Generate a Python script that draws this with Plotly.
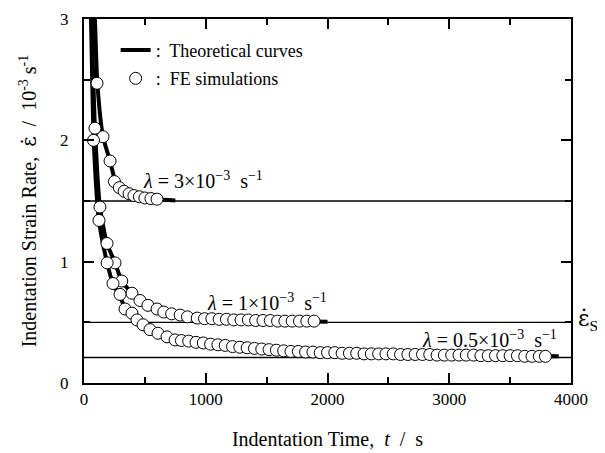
import plotly.graph_objects as go

# ---------------- data ----------------
# FE simulation points: t [s], strain rate [1e-3 s^-1]
fe3_t = [107, 156, 214, 250, 290, 330, 370, 410, 455, 500, 550, 600]
fe3_e = [2.47, 2.03, 1.83, 1.66, 1.61, 1.58, 1.56, 1.545, 1.535, 1.525, 1.52, 1.515]

fe1_t = [90, 131, 189, 255, 310, 394, 460, 525, 600, 655, 720, 790, 850, 930,
         990, 1050, 1110, 1170, 1230, 1290, 1350, 1410, 1470, 1530, 1590, 1650,
         1710, 1770, 1830, 1890]
fe1_e = [2.10, 1.45, 1.15, 0.99, 0.84, 0.74, 0.68, 0.64, 0.61, 0.585, 0.57, 0.56,
         0.545, 0.535, 0.53, 0.53, 0.525, 0.525, 0.52, 0.52, 0.52, 0.515, 0.515,
         0.515, 0.51, 0.51, 0.51, 0.51, 0.51, 0.51]

fe05_t = [78, 123, 190, 238, 296, 337, 394, 435, 485, 542, 608, 682, 748,
          800, 860, 920, 980, 1040, 1100, 1160, 1220, 1280, 1340, 1400, 1460,
          1520, 1580, 1640, 1700, 1760, 1820, 1880, 1940, 2000, 2060, 2120, 2180,
          2240, 2300, 2360, 2420, 2480, 2540, 2600, 2660, 2720, 2780, 2840, 2900,
          2960, 3020, 3080, 3140, 3200, 3260, 3320, 3380, 3440, 3500, 3560, 3620,
          3680, 3740, 3790]
fe05_e = [2.00, 1.34, 0.99, 0.82, 0.73, 0.61, 0.575, 0.52, 0.48, 0.44, 0.41, 0.38,
          0.355, 0.35, 0.345, 0.335, 0.33, 0.32, 0.315, 0.31, 0.30, 0.295, 0.29,
          0.285, 0.28, 0.275, 0.27, 0.265, 0.26, 0.26, 0.255, 0.255, 0.25, 0.25,
          0.25, 0.245, 0.245, 0.245, 0.24, 0.24, 0.24, 0.24, 0.24, 0.235, 0.235,
          0.235, 0.235, 0.235, 0.23, 0.23, 0.23, 0.23, 0.23, 0.23, 0.225, 0.225,
          0.225, 0.225, 0.225, 0.225, 0.22, 0.22, 0.22, 0.22]

# Theoretical curves
th3_t = [90, 110, 156, 214, 255, 300, 400, 500, 600, 750]
th3_e = [3.0, 2.47, 2.03, 1.83, 1.67, 1.60, 1.55, 1.53, 1.515, 1.505]

th1_t = [62, 90, 131, 189, 255, 310, 394, 460, 525, 600, 720, 850, 1000, 1300,
         1600, 2000]
th1_e = [3.0, 2.10, 1.45, 1.15, 0.99, 0.84, 0.74, 0.68, 0.64, 0.61, 0.57, 0.545,
         0.53, 0.52, 0.51, 0.505]

th05_t = [58, 80, 123, 190, 238, 296, 337, 394, 435, 485, 542, 608, 682, 748,
          950, 1220, 1500, 1750, 2000, 2500, 3000, 3500, 3900]
th05_e = [3.0, 2.0, 1.34, 0.99, 0.82, 0.71, 0.62, 0.565, 0.52, 0.48, 0.44, 0.41,
          0.38, 0.355, 0.33, 0.30, 0.275, 0.26, 0.25, 0.24, 0.23, 0.225, 0.22]

# Steady-state strain rates
steady_rates = [1.5, 0.5, 0.21]
t_span = [0, 4000]

lambda_labels = ["<i>λ</i> = 3×10<sup>−3</sup>  s<sup>−1</sup>",
                 "<i>λ</i> = 1×10<sup>−3</sup>  s<sup>−1</sup>",
                 "<i>λ</i> = 0.5×10<sup>−3</sup>  s<sup>−1</sup>"]
lambda_label_t = [977, 1500, 3330]
lambda_label_e = [1.67, 0.665, 0.36]

x_ticks = [0, 1000, 2000, 3000, 4000]
y_ticks = [0, 1, 2, 3]

FONT = "Liberation Serif, Times New Roman, serif"
EPSDOT = "<span style='font-family:DejaVu Serif'>ε̇</span>"

fig = go.Figure()

# steady-state thin lines
for r in steady_rates:
    fig.add_trace(go.Scatter(x=t_span, y=[r, r], mode="lines",
                             line=dict(color="black", width=1.3),
                             showlegend=False, hoverinfo="skip"))

# theoretical thick curves
for i, (tt, ee) in enumerate([(th3_t, th3_e), (th1_t, th1_e), (th05_t, th05_e)]):
    fig.add_trace(go.Scatter(x=tt, y=ee, mode="lines",
                             line=dict(color="black", width=4, shape="spline", smoothing=0.6),
                             name=":  Theoretical curves", legendgroup="th",
                             showlegend=(i == 0)))

# FE markers
for i, (tt, ee) in enumerate([(fe3_t, fe3_e), (fe1_t, fe1_e), (fe05_t, fe05_e)]):
    fig.add_trace(go.Scatter(x=tt, y=ee, mode="markers",
                             marker=dict(symbol="circle", size=12, color="white",
                                         line=dict(color="black", width=1)),
                             name=":  FE simulations", legendgroup="fe",
                             showlegend=(i == 0)))

for txt, tx, ey in zip(lambda_labels, lambda_label_t, lambda_label_e):
    fig.add_annotation(x=tx, y=ey, text=txt, showarrow=False,
                       font=dict(family=FONT, size=20, color="black"))

fig.add_annotation(xref="paper", yref="y", x=1.01, y=0.52, xanchor="left",
                   text=EPSDOT + "<sub>S</sub>", showarrow=False,
                   font=dict(family=FONT, size=22, color="black"))

axis_common = dict(showline=True, linecolor="black", linewidth=2, mirror="ticks",
                   ticks="inside", tickcolor="black", tickwidth=1.5, ticklen=10,
                   showgrid=False, zeroline=False, automargin=False,
                   tickfont=dict(family=FONT, size=17, color="black"))

fig.update_xaxes(range=[0, 4000], tickvals=x_ticks,
                 minor=dict(dtick=500, ticks="inside", ticklen=6, tickcolor="black", tickwidth=1.5),
                 title=dict(text="Indentation Time,  <i>t</i>  /  s",
                            font=dict(family=FONT, size=20, color="black"), standoff=24),
                 **axis_common)
fig.update_yaxes(range=[0, 3], tickvals=y_ticks,
                 minor=dict(dtick=0.5, ticks="inside", ticklen=6, tickcolor="black", tickwidth=1.5),
                 title=dict(text="Indentation Strain Rate,  " + EPSDOT + "  /  10<sup>-3</sup> s<sup>-1</sup>",
                            font=dict(family=FONT, size=20, color="black"), standoff=18),
                 ticklabelstandoff=10,
                 **axis_common)

fig.update_layout(width=605, height=453,
                  margin=dict(l=76, r=42, t=11, b=78),
                  paper_bgcolor="white", plot_bgcolor="white",
                  font=dict(family=FONT, color="black"),
                  legend=dict(x=0.065, y=0.965, xanchor="left", yanchor="top",
                              bgcolor="rgba(0,0,0,0)", tracegroupgap=2,
                              itemwidth=30,
                              font=dict(family=FONT, size=18, color="black")))

fig.write_html("out.html")
